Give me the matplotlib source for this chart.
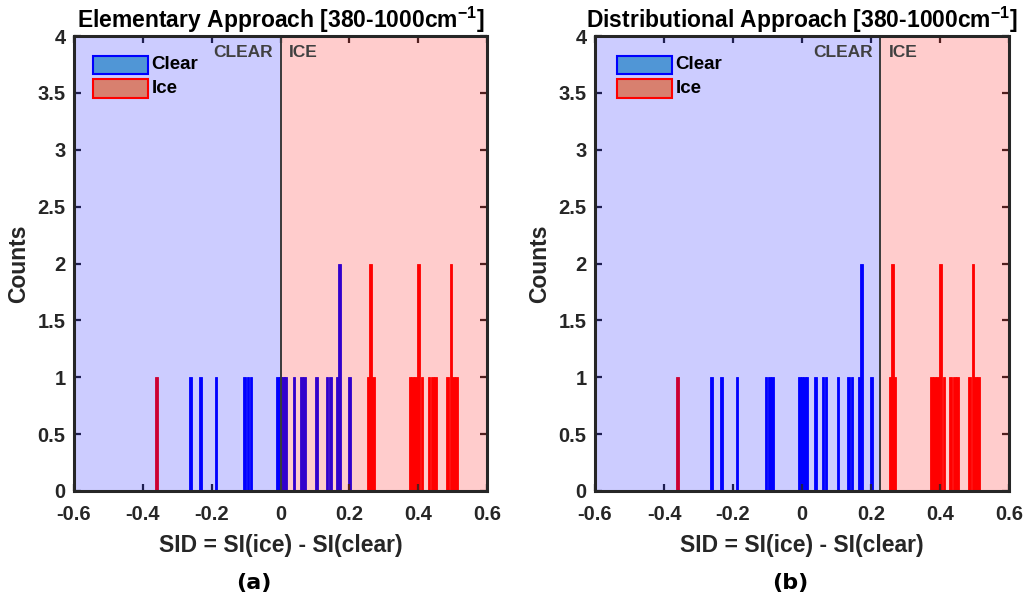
import matplotlib
matplotlib.use("Agg")
import matplotlib.pyplot as plt
from matplotlib.patches import Rectangle
import numpy as np

# ---- data (bin centers and counts) ----
clear_centers = [-0.262, -0.233, -0.188, -0.104, -0.095, -0.086,
                 -0.008, 0.000, 0.008, 0.015,
                 0.039, 0.061, 0.069, 0.104, 0.135, 0.145,
                 0.165, 0.172, 0.201]
clear_counts = [1, 1, 1, 1, 1, 1,
                1, 1, 1, 1,
                1, 1, 1, 1, 1, 1,
                1, 2, 1]
ice_centers = [-0.361, 0.256, 0.262, 0.270,
               0.376, 0.384, 0.392, 0.401, 0.411, 0.431, 0.442, 0.451,
               0.486, 0.496, 0.503, 0.511]
ice_counts = [1, 1, 2, 1,
              1, 1, 1, 2, 1, 1, 1, 1,
              1, 2, 1, 1]

panel_titles = ["Elementary Approach [380-1000cm$^{\\mathbf{-1}}$]",
                "Distributional Approach [380-1000cm$^{\\mathbf{-1}}$]"]
panel_thresholds = [0.0, 0.227]
panel_tags = ["(a)", "(b)"]
legend_labels = ["Clear", "Ice"]
x_ticks = [-0.6, -0.4, -0.2, 0, 0.2, 0.4, 0.6]
x_ticklabels = ["-0.6", "-0.4", "-0.2", "0", "0.2", "0.4", "0.6"]
y_ticks = [0, 0.5, 1, 1.5, 2, 2.5, 3, 3.5, 4]
y_ticklabels = ["0", "0.5", "1", "1.5", "2", "2.5", "3", "3.5", "4"]

plt.rcParams['font.family'] = ['Liberation Sans', 'DejaVu Sans']
plt.rcParams['mathtext.fontset'] = 'custom'
plt.rcParams['mathtext.rm'] = 'Liberation Sans:bold'
plt.rcParams['mathtext.bf'] = 'Liberation Sans:bold'
plt.rcParams['mathtext.it'] = 'Liberation Sans:bold'

fig = plt.figure(figsize=(10.27, 6.0), dpi=100)
axes_pos = [[74 / 1027, 109 / 600, 413 / 1027, 455 / 600],
            [595 / 1027, 109 / 600, 414 / 1027, 455 / 600]]
legend_x = [0.047, 0.054]
tag_x = [254 / 1027, 790 / 1027]
dark = '#262626'
bw = 0.0074

for i in range(2):
    ax = fig.add_axes(axes_pos[i])
    thr = panel_thresholds[i]
    ax.bar(clear_centers, clear_counts, width=bw, color='blue',
           edgecolor='blue', linewidth=0.6, zorder=1)
    ax.bar(ice_centers, ice_counts, width=bw, color='red',
           edgecolor='red', linewidth=0.6, zorder=1)
    ax.axvspan(-0.6, thr, color='blue', alpha=0.2, lw=0, zorder=2)
    ax.axvspan(thr, 0.6, color='red', alpha=0.2, lw=0, zorder=2)
    ax.axvline(thr, color='#3a3a3a', lw=1.4, zorder=3)
    ax.set_xlim(-0.6, 0.6)
    ax.set_ylim(0, 4)
    ax.set_xticks(x_ticks)
    ax.set_xticklabels(x_ticklabels)
    ax.set_yticks(y_ticks)
    ax.set_yticklabels(y_ticklabels)
    ax.tick_params(direction='in', top=True, right=True, length=5, width=1.6,
                   color=dark, labelcolor=dark, labelsize=14.5)
    ax.tick_params(axis='x', pad=10)
    ax.tick_params(axis='y', pad=6)
    for lab in ax.get_xticklabels() + ax.get_yticklabels():
        lab.set_fontweight('bold')
    for s in ax.spines.values():
        s.set_linewidth(2.2)
        s.set_color(dark)
        s.set_zorder(5)
    ax.set_title(panel_titles[i], fontsize=16.5, fontweight='bold', pad=5.5)
    ax.set_ylabel("Counts", fontsize=16.5, fontweight='bold', color=dark, labelpad=5)
    ax.set_xlabel("SID = SI(ice) - SI(clear)", fontsize=16.5, fontweight='bold',
                  color=dark, labelpad=7)
    ax.text(thr - 0.022, 3.815, "CLEAR", ha='right', va='baseline', fontsize=12.5,
            fontweight='bold', color='#404040', zorder=6)
    ax.text(thr + 0.025, 3.815, "ICE", ha='left', va='baseline', fontsize=12.5,
            fontweight='bold', color='#404040', zorder=6)
    # legend drawn as patches + labels
    faces = ['#5096d6', '#d8806f']
    edges = ['blue', 'red']
    bottoms = [0.9165, 0.8644]
    for k in range(2):
        ax.add_patch(Rectangle((legend_x[i], bottoms[k]), 0.133, 0.0402,
                               transform=ax.transAxes, facecolor=faces[k],
                               edgecolor=edges[k], linewidth=1.5, zorder=6,
                               clip_on=False))
        ax.text(legend_x[i] + 0.141, bottoms[k] + 0.0201, legend_labels[k],
                transform=ax.transAxes, ha='left', va='center', fontsize=13.5,
                fontweight='bold', color='black', zorder=6)
    fig.text(tag_x[i], 1 - 583 / 600, panel_tags[i], ha='center', va='center',
             fontsize=16, fontweight='bold', family='DejaVu Sans', color='black')

fig.savefig("out.png", dpi=100)
